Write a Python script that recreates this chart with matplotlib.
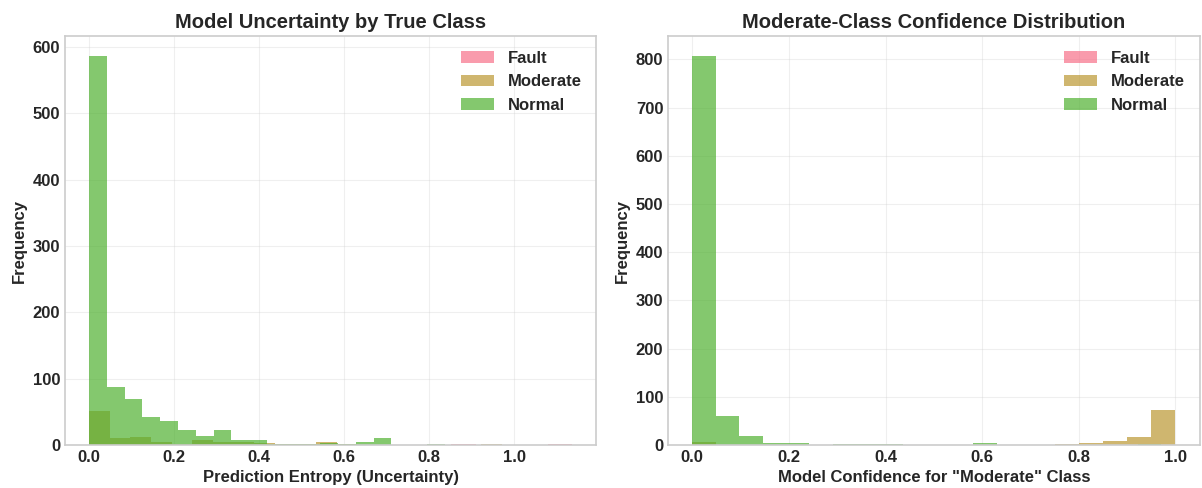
import matplotlib
matplotlib.use('Agg')
import matplotlib.pyplot as plt
import numpy as np
import seaborn as sns

plt.style.use('seaborn-v0_8-whitegrid')
sns.set_palette('husl')
plt.rcParams['font.family'] = ['Liberation Sans', 'DejaVu Sans']
plt.rcParams['font.weight'] = 'bold'
plt.rcParams['axes.labelweight'] = 'bold'
plt.rcParams['axes.titleweight'] = 'bold'

classes = ['Fault', 'Moderate', 'Normal']

# left panel: prediction entropy histograms (bin range, counts per bin)
fault_ent_range = (0.0, 1.136)
fault_ent_counts = [2, 0, 0, 0, 0, 0, 0, 0, 0, 0, 0, 0, 0, 0, 0, 2, 0, 0, 0, 1]
moderate_ent_range = (0.0, 0.97)
moderate_ent_counts = [52, 11, 12, 5, 2, 8, 5, 5, 3, 1, 1, 4, 1, 0, 0, 0, 0, 0, 0, 1]
normal_ent_range = (0.0, 0.836)
normal_ent_counts = [587, 88, 70, 43, 36, 22, 14, 22, 8, 7, 2, 2, 2, 3, 1, 4, 10, 0, 0, 1]

# right panel: confidence for "Moderate" class
fault_conf_range = (0.0, 0.01)
fault_conf_counts = [2]
moderate_conf_range = (0.0, 1.0)
moderate_conf_counts = [7, 1, 0, 0, 0, 0, 0, 0, 0, 0, 0, 0, 0, 0, 0, 2, 4, 8, 16, 73]
normal_conf_range = (0.0, 0.97)
normal_conf_counts = [808, 60, 19, 4, 4, 1, 3, 3, 2, 0, 0, 0, 4, 0, 0, 0, 0, 0, 0, 3]

left_data = [(fault_ent_range, fault_ent_counts),
             (moderate_ent_range, moderate_ent_counts),
             (normal_ent_range, normal_ent_counts)]
right_data = [(fault_conf_range, fault_conf_counts),
              (moderate_conf_range, moderate_conf_counts),
              (normal_conf_range, normal_conf_counts)]


def draw_hist(ax, data):
    for name, (rng, counts) in zip(classes, data):
        edges = np.linspace(rng[0], rng[1], len(counts) + 1)
        ax.hist(edges[:-1], bins=edges, weights=counts, alpha=0.7, label=name)


fig, axes = plt.subplots(1, 2, figsize=(12.02, 4.88), dpi=100)
fig.subplots_adjust(left=0.054, right=0.998, top=0.926, bottom=0.088, wspace=0.135)

draw_hist(axes[0], left_data)
axes[0].set_xlabel('Prediction Entropy (Uncertainty)', fontsize=12)
axes[0].set_ylabel('Frequency', fontsize=12)
axes[0].set_title('Model Uncertainty by True Class', fontsize=14.5)

draw_hist(axes[1], right_data)
axes[1].set_xlabel('Model Confidence for "Moderate" Class', fontsize=12)
axes[1].set_ylabel('Frequency', fontsize=12)
axes[1].set_title('Moderate-Class Confidence Distribution', fontsize=14.5)

for ax in axes:
    ax.legend(loc='upper right', fontsize=12, frameon=False)
    ax.grid(alpha=0.3)
    ax.tick_params(labelsize=12)
    for s in ax.spines.values():
        s.set_color('#cccccc')
        s.set_linewidth(1.2)

fig.savefig('out.png', dpi=100)
